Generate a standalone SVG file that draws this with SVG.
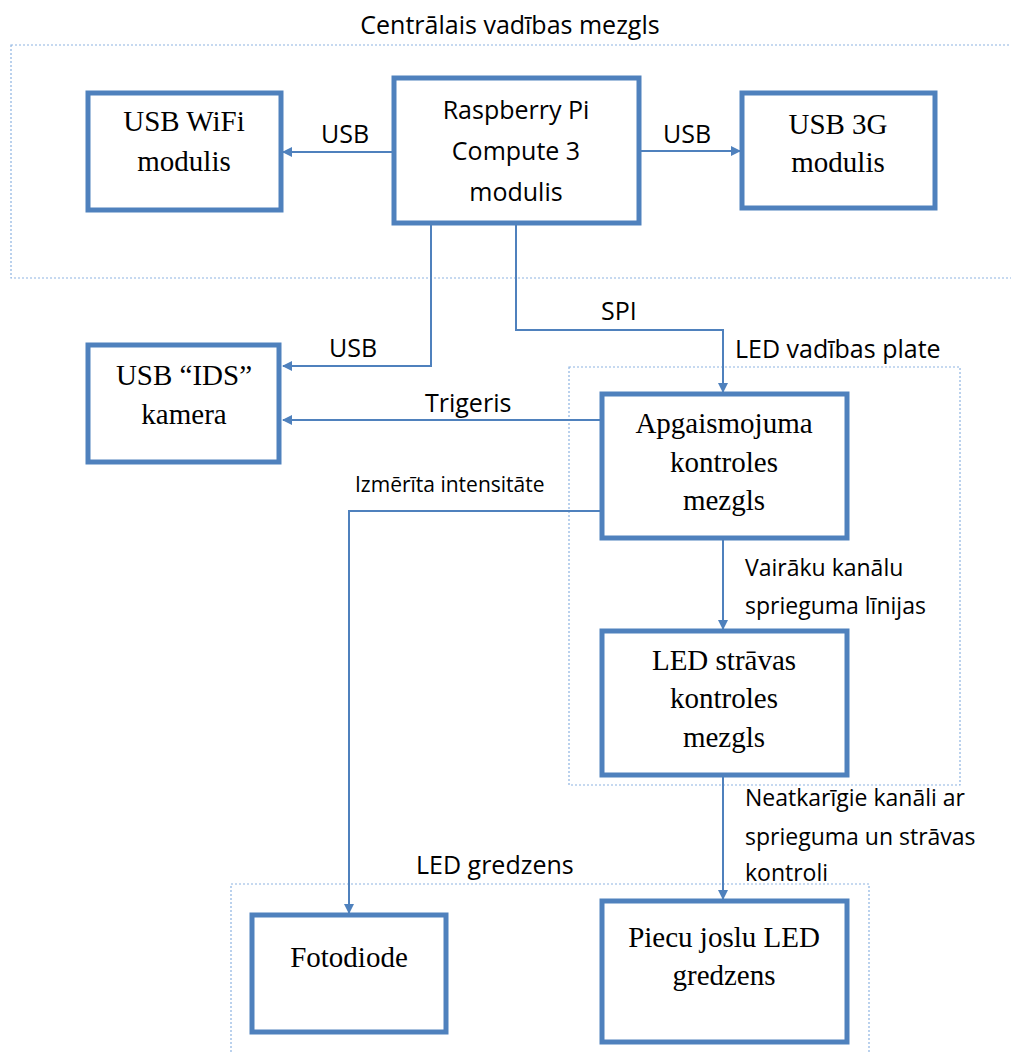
<svg xmlns="http://www.w3.org/2000/svg" width="1011" height="1053" viewBox="0 0 1011 1053">
<defs>
<style>
.grp{fill:none;stroke:#8DB3E2;stroke-width:1.2;stroke-dasharray:2,2}
.box{fill:#fff;stroke:#4F81BD;stroke-width:5}
.ln{fill:none;stroke:#4F81BD;stroke-width:2}
.sr{font-family:"Liberation Serif","Times New Roman",serif;font-size:29px;fill:#000;text-anchor:middle}
.ss{font-family:"Open Sans","Noto Sans",sans-serif;font-size:25px;fill:#000}
.sd{font-family:"Open Sans","Noto Sans",sans-serif;font-size:23px;fill:#000}
.sm{font-family:"Open Sans","Noto Sans",sans-serif;font-size:21px;fill:#000}
.mid{text-anchor:middle}
</style>
<marker id="ah" markerWidth="10" markerHeight="10" refX="9" refY="5" orient="auto" markerUnits="userSpaceOnUse" viewBox="0 0 10 10">
<path d="M0,0 L10,5 L0,10 Z" fill="#4F81BD"/>
</marker>
</defs>

<g id="groups">
<rect class="grp" x="11" y="45" width="1010" height="233"/>
<text class="ss mid" x="510" y="34" font-size="26.5">Centrālais vadības mezgls</text>
<rect class="grp" x="569" y="367" width="391" height="418"/>
<text class="ss" x="735" y="358" font-size="25.7">LED vadības plate</text>
<rect class="grp" x="231" y="884" width="638" height="180"/>
<text class="ss" x="416" y="874">LED gredzens</text>
</g>

<g id="connectors">
<line class="ln" x1="394" y1="152" x2="283" y2="152" marker-end="url(#ah)"/>
<text class="ss" x="321" y="143">USB</text>
<line class="ln" x1="639" y1="151" x2="740" y2="151" marker-end="url(#ah)"/>
<text class="ss" x="663" y="143">USB</text>
<polyline class="ln" points="431,223 431,366 283,366" marker-end="url(#ah)"/>
<text class="ss" x="329" y="357">USB</text>
<polyline class="ln" points="516,223 516,330 723,330 723,392" marker-end="url(#ah)"/>
<text class="ss" x="601" y="320">SPI</text>
<line class="ln" x1="602" y1="420" x2="283" y2="420" marker-end="url(#ah)"/>
<text class="ss" x="425" y="412">Trigeris</text>
<polyline class="ln" points="602,511 349,511 349,913" marker-end="url(#ah)"/>
<text class="sm" x="355" y="492">Izmērīta intensitāte</text>
<line class="ln" x1="723" y1="538" x2="723" y2="629" marker-end="url(#ah)"/>
<text class="sd" x="745" y="576">Vairāku kanālu</text>
<text class="sd" x="745" y="614">sprieguma līnijas</text>
<line class="ln" x1="723" y1="775" x2="723" y2="899" marker-end="url(#ah)"/>
<text class="sd" x="745" y="806">Neatkarīgie kanāli ar</text>
<text class="sd" x="745" y="845">sprieguma un strāvas</text>
<text class="sd" x="745" y="881">kontroli</text>
</g>

<g id="usb-wifi">
<rect class="box" x="88" y="93" width="193" height="117"/>
<text class="sr" x="184" y="131">USB WiFi</text>
<text class="sr" x="184" y="171">modulis</text>
</g>

<g id="raspberry-pi">
<rect class="box" x="394" y="78" width="245" height="145"/>
<text class="ss mid" x="516" y="119">Raspberry Pi</text>
<text class="ss mid" x="516" y="160">Compute 3</text>
<text class="ss mid" x="516" y="201">modulis</text>
</g>

<g id="usb-3g">
<rect class="box" x="742" y="93" width="193" height="115"/>
<text class="sr" x="838" y="134">USB 3G</text>
<text class="sr" x="838" y="172">modulis</text>
</g>

<g id="usb-ids">
<rect class="box" x="88" y="345" width="191" height="117"/>
<text class="sr" x="184" y="385">USB “IDS”</text>
<text class="sr" x="184" y="424">kamera</text>
</g>

<g id="apgaismojuma">
<rect class="box" x="602" y="394" width="245" height="144"/>
<text class="sr" x="724" y="433">Apgaismojuma</text>
<text class="sr" x="724" y="472">kontroles</text>
<text class="sr" x="724" y="510">mezgls</text>
</g>

<g id="led-stravas">
<rect class="box" x="602" y="631" width="245" height="144"/>
<text class="sr" x="724" y="670">LED strāvas</text>
<text class="sr" x="724" y="708">kontroles</text>
<text class="sr" x="724" y="747">mezgls</text>
</g>

<g id="fotodiode">
<rect class="box" x="252" y="915" width="194" height="117"/>
<text class="sr" x="349" y="967">Fotodiode</text>
</g>

<g id="piecu-joslu">
<rect class="box" x="602" y="901" width="245" height="141"/>
<text class="sr" x="724" y="947">Piecu joslu LED</text>
<text class="sr" x="724" y="985">gredzens</text>
</g>
</svg>
